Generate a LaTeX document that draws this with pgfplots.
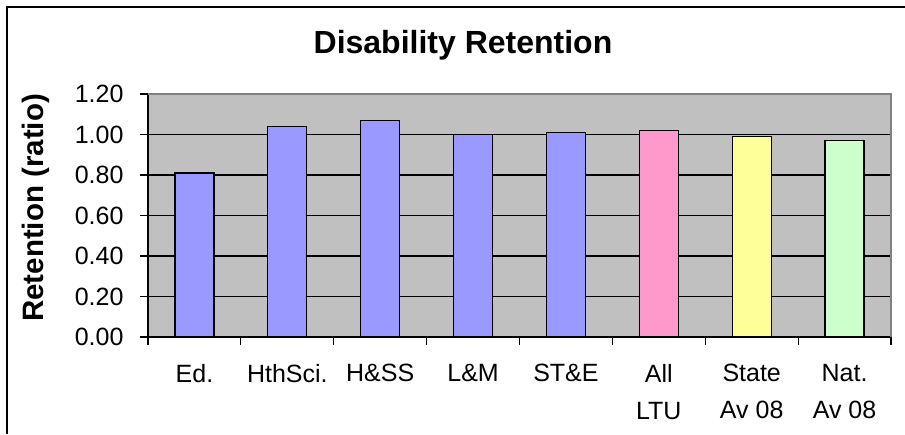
\documentclass[border=0pt]{standalone}
\usepackage{pgfplots}
\pgfplotsset{compat=1.18}
\usepackage{fontspec}
\setmainfont{Liberation Sans}

\definecolor{plotbg}{HTML}{C0C0C0}
\definecolor{barblue}{HTML}{9999FF}
\definecolor{barpink}{HTML}{FF99CC}
\definecolor{baryellow}{HTML}{FFFF99}
\definecolor{bargreen}{HTML}{CCFFCC}
\definecolor{framegray}{HTML}{808080}

\begin{document}
\begin{tikzpicture}[x=1pt,y=1pt]
  \path[use as bounding box] (0,0) rectangle (905,434);
  \draw[line width=2pt] (7,0) -- (7,427) -- (905,427);
  \node[font=\fontsize{32}{38}\selectfont\bfseries, anchor=base, inner sep=0pt] at (463,380) {Disability Retention};
  \node[font=\fontsize{29.5}{35}\selectfont\bfseries, rotate=90] at (36,226) {Retention (ratio)};
  \begin{axis}[
      at={(148pt,97pt)}, anchor=south west,
      scale only axis, width=743pt, height=243pt,
      xmin=-0.5, xmax=7.5, ymin=0, ymax=1.2,
      axis lines=left, axis line style={-, line width=1.2pt},
      axis background/.style={fill=plotbg},
      ytick={0,0.2,...,1.21},
      ymajorgrids, major grid style={black, line width=1.2pt},
      tick align=outside,
      ytick style={black, line width=1.2pt},
      major tick length=8pt,
      xtick={0,...,7},
      xticklabels={Ed., HthSci., H\&SS, L\&M, ST\&E, All\\LTU, State\\Av 08, Nat.\\Av 08},
      xtick style={draw=none},
      extra x ticks={-0.5,0.5,...,7.6},
      extra x tick labels={},
      extra x tick style={xtick style={draw=black, line width=1.2pt}, grid=none},
      tick label style={font=\fontsize{25}{37}\selectfont},
      xticklabel style={align=center, anchor=north, yshift=-16pt},
      yticklabel style={anchor=east, xshift=-13pt,
        /pgf/number format/.cd, fixed, fixed zerofill, precision=2,
        assume math mode=true},
      clip=false,
    ]
    \addplot[ybar, bar width=0.42, bar shift=0pt, fill=barblue, draw=black, line width=1.2pt]
      coordinates {(0,0.81) (1,1.04) (2,1.07) (3,1.00) (4,1.01)};
    \addplot[ybar, bar width=0.42, bar shift=0pt, fill=barpink, draw=black, line width=1.2pt]
      coordinates {(5,1.02)};
    \addplot[ybar, bar width=0.42, bar shift=0pt, fill=baryellow, draw=black, line width=1.2pt]
      coordinates {(6,0.99)};
    \addplot[ybar, bar width=0.42, bar shift=0pt, fill=bargreen, draw=black, line width=1.2pt]
      coordinates {(7,0.97)};
    \draw[framegray, line width=1.5pt] (rel axis cs:0,1) -- (rel axis cs:1,1) -- (rel axis cs:1,0);
  \end{axis}
\end{tikzpicture}
\end{document}
